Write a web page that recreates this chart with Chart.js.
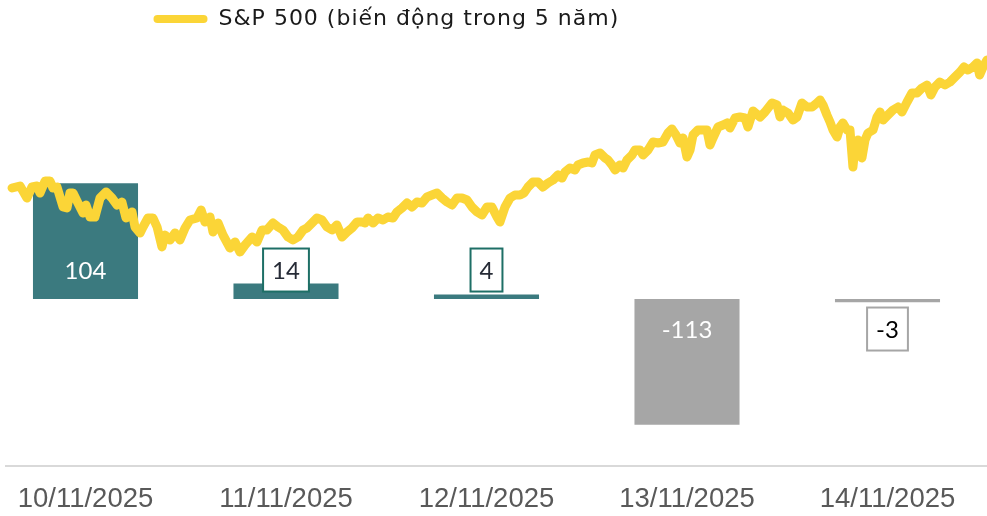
<!DOCTYPE html>
<html>
<head>
<meta charset="utf-8">
<script src="https://cdn.jsdelivr.net/npm/chart.js@4.4.1/dist/chart.umd.min.js"></script>
<style>
  html, body { margin: 0; padding: 0; background: #ffffff; }
  #wrap { position: relative; width: 987px; height: 516px; }
</style>
</head>
<body>
<div id="wrap"><canvas id="c"></canvas></div>
<script>
// ---- Data ----
const dateLabels = ['10/11/2025', '11/11/2025', '12/11/2025', '13/11/2025', '14/11/2025'];
const flowValues = [104, 14, 4, -113, -3];
const seriesName = 'S&P 500 (biến động trong 5 năm)';

// S&P 500 over 5 years: month from start (0..60) and index level
const spxMonths = [
  0.37, 0.86, 1.28, 1.59, 1.90, 2.08, 2.39, 2.69, 2.87, 3.12,
  3.49, 3.73, 3.91, 4.10, 4.40, 4.71, 4.89, 5.14, 5.44, 5.75,
  6.12, 6.48, 6.79, 7.09, 7.34, 7.71, 7.89, 8.20, 8.38, 8.68,
  8.99, 9.24, 9.54, 9.72, 10.03, 10.34, 10.64, 10.95, 11.25, 11.68,
  11.93, 12.17, 12.48, 12.66, 12.97, 13.27, 13.70, 14.01, 14.31, 14.62,
  15.05, 15.35, 15.66, 15.96, 16.33, 16.64, 16.94, 17.25, 17.55, 17.86,
  18.17, 18.41, 18.72, 19.02, 19.33, 19.63, 19.94, 20.24, 20.55, 20.86,
  21.16, 21.47, 21.77, 21.96, 22.14, 22.45, 22.75, 23.06, 23.36, 23.67,
  23.91, 24.22, 24.53, 24.83, 25.14, 25.44, 25.75, 26.05, 26.36, 26.67,
  26.97, 27.28, 27.58, 27.89, 28.20, 28.50, 28.81, 29.11, 29.42, 29.72,
  30.03, 30.21, 30.52, 30.83, 31.13, 31.44, 31.68, 31.93, 32.23, 32.54,
  32.84, 33.15, 33.46, 33.76, 34.01, 34.19, 34.49, 34.80, 34.98, 35.29,
  35.60, 35.84, 36.02, 36.33, 36.64, 36.82, 37.06, 37.25, 37.55, 37.74,
  37.98, 38.29, 38.47, 38.78, 38.96, 39.27, 39.57, 39.88, 40.18, 40.49,
  40.73, 40.98, 41.22, 41.41, 41.65, 41.84, 42.02, 42.32, 42.63, 42.87,
  43.06, 43.24, 43.55, 43.85, 44.10, 44.28, 44.59, 44.89, 45.20, 45.38,
  45.69, 46.12, 46.42, 46.85, 47.16, 47.34, 47.52, 47.83, 48.13, 48.38,
  48.68, 48.99, 49.30, 49.60, 49.79, 49.97, 50.21, 50.40, 50.58, 50.83,
  51.01, 51.19, 51.44, 51.62, 51.80, 51.93, 52.11, 52.35, 52.54, 52.72,
  53.03, 53.27, 53.46, 53.64, 53.94, 54.25, 54.56, 54.80, 55.11, 55.41,
  55.72, 56.02, 56.33, 56.57, 56.82, 57.12, 57.43, 57.74, 58.04, 58.35,
  58.59, 58.84, 59.14, 59.39, 59.55, 59.76, 60.00
];
const spxLevels = [
  5420, 5440, 5320, 5430, 5440, 5370, 5490, 5490, 5420, 5430,
  5230, 5220, 5370, 5370, 5270, 5170, 5250, 5130, 5130, 5320,
  5380, 5320, 5250, 5280, 5120, 5180, 5030, 4970, 5030, 5120,
  5120, 5030, 4830, 4950, 4900, 4970, 4900, 5020, 5100, 5120,
  5200, 5080, 5130, 4980, 5070, 4950, 4820, 4880, 4780, 4850,
  4930, 4880, 5000, 5000, 5070, 5030, 5000, 4930, 4900, 4930,
  5000, 5020, 5070, 5120, 5100, 5030, 5000, 5050, 4930, 4980,
  5020, 5080, 5080, 5070, 5120, 5070, 5120, 5100, 5130, 5120,
  5180, 5220, 5270, 5230, 5280, 5270, 5330, 5350, 5370, 5320,
  5280, 5250, 5320, 5320, 5300, 5230, 5180, 5150, 5230, 5230,
  5130, 5080, 5230, 5320, 5350, 5350, 5370, 5430, 5480, 5480,
  5430, 5470, 5500, 5550, 5520, 5580, 5620, 5600, 5650, 5670,
  5680, 5670, 5750, 5770, 5720, 5700, 5650, 5600, 5650, 5620,
  5700, 5750, 5800, 5800, 5750, 5800, 5880, 5870, 5880, 5970,
  6010, 5950, 5870, 5920, 5730, 5800, 5950, 6000, 6000, 6000,
  5850, 5920, 6030, 6050, 6070, 6020, 6120, 6130, 6120, 6030,
  6190, 6130, 6180, 6270, 6250, 6130, 6200, 6170, 6100, 6130,
  6270, 6230, 6230, 6270, 6300, 6250, 6150, 6080, 6000, 5930,
  6030, 6070, 6000, 6000, 5630, 5830, 5900, 5720, 5900, 5970,
  6000, 6130, 6180, 6100, 6150, 6200, 6230, 6180, 6280, 6370,
  6370, 6420, 6450, 6350, 6430, 6480, 6450, 6480, 6530, 6580,
  6630, 6600, 6630, 6670, 6550, 6630, 6700
];

// ---- Styles ----
const lineColor = '#fbd537';
const posColor = '#3b7a7f';
const negColor = '#a6a6a6';

const valueLabels = {
  id: 'valueLabels',
  afterDatasetsDraw(chart) {
    const ctx = chart.ctx;
    const meta = chart.getDatasetMeta(1);
    const zero = chart.scales.y.getPixelForValue(0);
    ctx.save();
    ctx.font = '24px Lato';
    ctx.textAlign = 'center';
    ctx.textBaseline = 'middle';
    meta.data.forEach((bar, i) => {
      const v = flowValues[i];
      const h = Math.abs(bar.base - bar.y);
      const cy = v >= 0 ? zero - 29 : zero + 30;
      const txt = String(v);
      if (h < 45) {
        const w = ctx.measureText(txt).width + 18;
        ctx.fillStyle = '#ffffff';
        ctx.strokeStyle = v >= 0 ? '#1e6f66' : '#a6a6a6';
        ctx.lineWidth = 2;
        ctx.fillRect(bar.x - w / 2, cy - 21.5, w, 43);
        ctx.strokeRect(bar.x - w / 2, cy - 21.5, w, 43);
        ctx.fillStyle = v >= 0 ? '#262b36' : '#000000';
      } else {
        ctx.fillStyle = '#ffffff';
      }
      ctx.fillText(txt, bar.x, cy + 1);
    });
    ctx.restore();
  }
};

const legendShift = {
  id: 'legendShift',
  afterLayout(chart) {
    const lg = chart.legend;
    if (!lg) return;
    lg.left = 145.5;
    if (!lg._spaced) {
      const orig = lg.draw.bind(lg);
      lg.draw = function (area) {
        const c = this.ctx;
        const prev = c.letterSpacing;
        c.letterSpacing = '1px';
        orig(area);
        c.letterSpacing = prev || '0px';
      };
      lg._spaced = true;
    }
  }
};

new Chart(document.getElementById('c'), {
  type: 'bar',
  data: {
    datasets: [
      {
        type: 'line',
        label: seriesName,
        data: spxMonths.map((m, i) => ({ x: m, y: spxLevels[i] })),
        xAxisID: 'x2',
        yAxisID: 'y2',
        grouped: false,
        borderColor: lineColor,
        backgroundColor: lineColor,
        borderWidth: 9,
        borderJoinStyle: 'round',
        borderCapStyle: 'round',
        pointRadius: 0,
        tension: 0
      },
      {
        type: 'bar',
        label: 'flows',
        data: flowValues.map((v, i) => ({ x: i, y: v })),
        xAxisID: 'x',
        yAxisID: 'y',
        grouped: false,
        backgroundColor: flowValues.map(v => v >= 0 ? posColor : negColor),
        borderWidth: 0,
        categoryPercentage: 1,
        barPercentage: 0.524
      }
    ]
  },
  options: {
    responsive: true,
    maintainAspectRatio: false,
    animation: false,
    devicePixelRatio: 1,
    layout: { padding: { left: 6, right: 0, top: 0, bottom: 0 } },
    plugins: {
      tooltip: { enabled: false },
      legend: {
        display: true,
        position: 'top',
        align: 'start',
        labels: {
          boxWidth: 54,
          boxHeight: 8,
          padding: 8,
          useBorderRadius: true,
          borderRadius: 4,
          color: '#1a1a1a',
          font: { family: 'DejaVu Sans', size: 22 },
          generateLabels(chart) {
            const items = Chart.defaults.plugins.legend.labels.generateLabels(chart)
              .filter(it => it.datasetIndex === 0);
            items.forEach(it => { it.lineWidth = 0; it.fillStyle = lineColor; it.strokeStyle = lineColor; });
            return items;
          }
        }
      }
    },
    scales: {
      x: {
        type: 'linear',
        position: 'bottom',
        offset: false,
        min: -0.3965,
        max: 4.4963,
        grid: { display: false, drawTicks: false, offset: false },
        border: { display: true, color: '#d9d9d9', width: 2 },
        ticks: {
          stepSize: 1,
          includeBounds: false,
          autoSkip: false,
          maxRotation: 0,
          padding: 17,
          color: '#595959',
          font: { family: 'Liberation Sans', size: 27.5 },
          callback: v => dateLabels[v] ?? ''
        },
        afterFit(scale) { scale.height = 50; scale.paddingLeft = 0; scale.paddingRight = 0; }
      },
      y: {
        display: false,
        min: -150,
        max: 232.7
      },
      x2: {
        type: 'linear',
        display: false,
        offset: false,
        grid: { offset: false },
        min: 0,
        max: 60
      },
      y2: {
        display: false,
        min: 2640,
        max: 6900
      }
    }
  },
  plugins: [valueLabels, legendShift]
});
</script>
</body>
</html>
